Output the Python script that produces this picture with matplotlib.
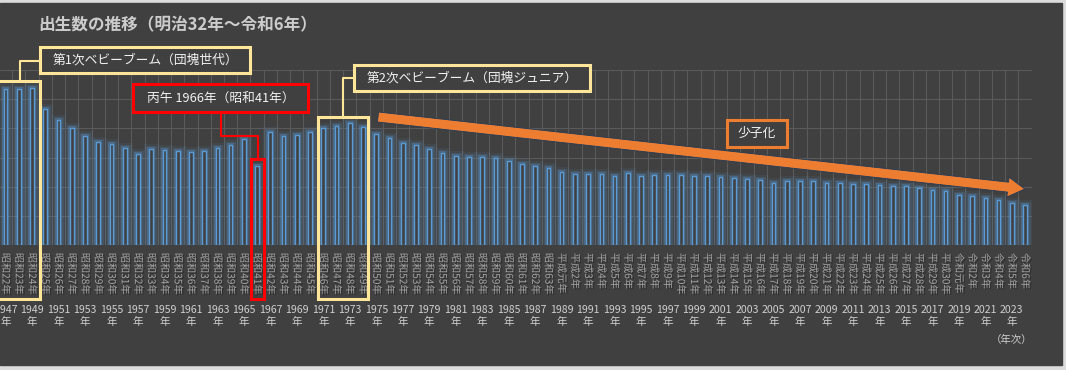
import numpy as np
import matplotlib.pyplot as plt
import matplotlib.patheffects as pe
from matplotlib.patches import Rectangle, FancyArrowPatch

plt.rcParams['font.family'] = ['Noto Sans CJK JP', 'DejaVu Sans']

# data: births per year (1947-2024)
years = list(range(1947, 2025))
births = [
    2678792, 2681624, 2696638, 2337507, 2137689, 2005162, 1868040, 1769580,
    1730692, 1665278, 1566713, 1653469, 1626088, 1606041, 1589372, 1618616,
    1659521, 1716761, 1823697, 1360974, 1935647, 1871839, 1889815, 1934239,
    2000973, 2038682, 2091983, 2029989, 1901440, 1832617, 1755100, 1708643,
    1642580, 1576889, 1529455, 1515392, 1508687, 1489780, 1431577, 1382946,
    1346658, 1314006, 1246802, 1221585, 1223245, 1208989, 1188282, 1238328,
    1187064, 1206555, 1191665, 1203147, 1177669, 1190547, 1170662, 1153855,
    1123610, 1110721, 1062530, 1092674, 1089818, 1091156, 1070036, 1071305,
    1050806, 1037231, 1029817, 1003609, 1005721, 977242, 946146, 918400,
    865239, 840835, 811622, 770759, 727288, 686061,
]
era_labels = [
    "昭和22年", "昭和23年", "昭和24年", "昭和25年", "昭和26年", "昭和27年",
    "昭和28年", "昭和29年", "昭和30年", "昭和31年", "昭和32年", "昭和33年",
    "昭和34年", "昭和35年", "昭和36年", "昭和37年", "昭和38年", "昭和39年",
    "昭和40年", "昭和41年", "昭和42年", "昭和43年", "昭和44年", "昭和45年",
    "昭和46年", "昭和47年", "昭和48年", "昭和49年", "昭和50年", "昭和51年",
    "昭和52年", "昭和53年", "昭和54年", "昭和55年", "昭和56年", "昭和57年",
    "昭和58年", "昭和59年", "昭和60年", "昭和61年", "昭和62年", "昭和63年",
    "平成元年", "平成2年", "平成3年", "平成4年", "平成5年", "平成6年",
    "平成7年", "平成8年", "平成9年", "平成10年", "平成11年", "平成12年",
    "平成13年", "平成14年", "平成15年", "平成16年", "平成17年", "平成18年",
    "平成19年", "平成20年", "平成21年", "平成22年", "平成23年", "平成24年",
    "平成25年", "平成26年", "平成27年", "平成28年", "平成29年", "平成30年",
    "令和元年", "令和2年", "令和3年", "令和4年", "令和5年", "令和6年",
]
title = "出生数の推移（明治32年～令和6年）"

BG = '#404040'
BLUE = '#5b9bd5'
YELLOW = '#ffe699'
RED = '#ff0000'
ORANGE = '#ed7d31'

W, H = 1066, 370
fig = plt.figure(figsize=(W / 100, H / 100), dpi=100, facecolor='#dcdcdc')
fig.patches.append(Rectangle((0, 5 / H), 1062 / W, 362 / H, transform=fig.transFigure,
                             color=BG, zorder=-10))

ax = fig.add_axes([-1.1 / W, 125 / H, 1032.8 / W, 175 / H])
ax.set_facecolor(BG)
x = np.arange(len(years))

glow = [pe.Stroke(linewidth=8, foreground=BLUE, alpha=0.08),
        pe.Stroke(linewidth=5, foreground=BLUE, alpha=0.16),
        pe.Stroke(linewidth=2.8, foreground=BLUE, alpha=0.3),
        pe.Normal()]
bars = ax.bar(x, births, width=0.28, color=BG, edgecolor=BLUE, linewidth=1.0, zorder=3)
for b in bars:
    b.set_path_effects(glow)

ax.set_xlim(-0.5, len(years) - 0.5)
ax.set_ylim(0, 3000000)
ax.set_yticks(np.arange(0, 3000001, 500000))
ax.set_xticks([])
ax.set_xticks(np.arange(-0.5, len(years), 1), minor=True)
ax.grid(axis='y', color='#5a5a5a', linewidth=0.8)
ax.grid(axis='x', which='minor', color='#5a5a5a', linewidth=0.8)
ax.set_axisbelow(True)
ax.tick_params(which='both', length=0, labelleft=False, labelbottom=False)
for s in ax.spines.values():
    s.set_visible(False)

# category labels
xt = ax.get_xaxis_transform()
shadow = [pe.SimplePatchShadow(offset=(1, -1), shadow_rgbFace='#202020', alpha=0.6), pe.Normal()]
for i, lab in enumerate(era_labels):
    ax.text(i, -0.045, lab, transform=xt, rotation=-90, ha='center', va='top',
            fontsize=7.3, color='#a6a6a6', path_effects=shadow)
for i in x[::2]:
    ax.text(i, -0.405, f"{years[i]}\n年", transform=xt, ha='center', va='center',
            fontsize=7.6, color='#d0d0d0', linespacing=1.25)

fig.text(1012 / W, 1 - 340 / H, "（年次）", ha='center', va='center', fontsize=7.5, color='#d0d0d0')
fig.text(38 / W, 1 - 25 / H, title, ha='left', va='center', fontsize=12,
         fontweight='bold', color='#cccccc')


def box(x0, x1, y0, y1, text, color):
    ax.add_patch(Rectangle((x0, y0), x1 - x0, y1 - y0, facecolor=BG, edgecolor=color,
                           linewidth=2.2, clip_on=False, zorder=7))
    ax.text((x0 + x1) / 2, (y0 + y1) / 2, text, ha='center', va='center', fontsize=9.2,
            color='#f2f2f2', clip_on=False, zorder=8)


def bracket(i0, i1, pad_l, pad_r, color):
    top = max(births[i0:i1 + 1]) + 110000
    ax.add_patch(Rectangle((i0 - pad_l, -926000), i1 - i0 + pad_l + pad_r, top + 926000,
                           facecolor='none', edgecolor=color, linewidth=2.2,
                           clip_on=False, zorder=6))
    return top


def link(xs, ys, color):
    ax.plot(xs, ys, color=color, linewidth=1.5, clip_on=False, zorder=6)


# 第1次ベビーブーム
i0, i1 = years.index(1947), years.index(1949)
top = bracket(i0, i1, 0.6, 0.6, YELLOW)
box(2.61, 18.47, 2949000, 3394000, "第1次ベビーブーム（団塊世代）", YELLOW)
link([2.61, 1.1, 1.1], [3154000, 3154000, top], YELLOW)

# 丙午
i = years.index(1966)
top = bracket(i, i, 0.46, 0.52, RED)
box(9.63, 22.85, 2280000, 2760000, "丙午 1966年（昭和41年）", RED)
link([16.28, 16.28, 19.07, 19.07], [2280000, 1869000, 1869000, top], RED)

# 第2次ベビーブーム
i0, i1 = years.index(1971), years.index(1974)
top = bracket(i0, i1, 0.4, 0.4, YELLOW)
box(26.32, 44.15, 2640000, 3086000, "第2次ベビーブーム（団塊ジュニア）", YELLOW)
link([26.32, 25.49, 25.49], [2863000, 2863000, top], YELLOW)

# 少子化 arrow
arrow = FancyArrowPatch((28.13, 2194000), (76.98, 960000),
                        arrowstyle='simple,head_length=1.7,head_width=2.0,tail_width=1.0',
                        mutation_scale=7.2, facecolor=ORANGE, edgecolor='#1f3b5a',
                        linewidth=0.6, shrinkA=0, shrinkB=0, clip_on=False, zorder=6)
ax.add_patch(arrow)
box(54.49, 59.03, 1680000, 2143000, "少子化", ORANGE)

fig.savefig("out.png", dpi=100, facecolor=fig.get_facecolor())
